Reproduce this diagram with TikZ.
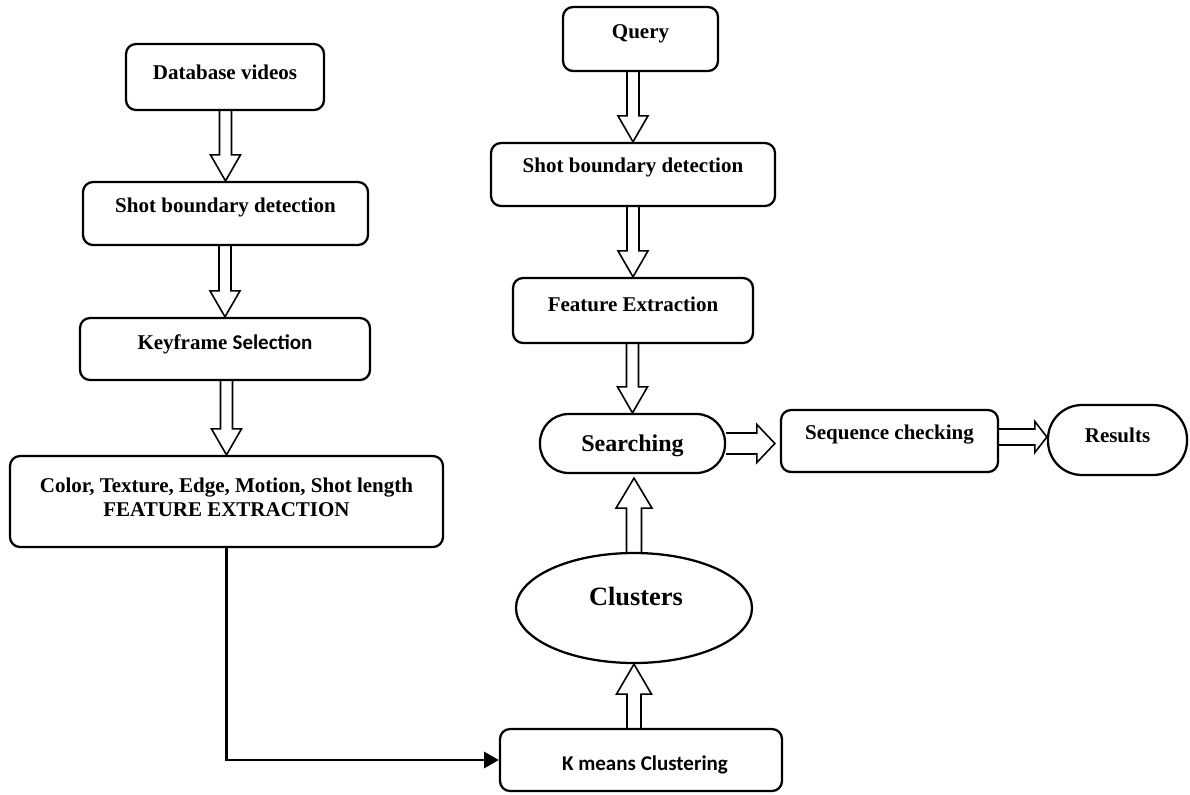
\documentclass[tikz,border=0pt]{standalone}
\usepackage{fontspec}
\setmainfont{Liberation Serif}
\newfontfamily\calfont{Carlito}
\usetikzlibrary{calc,arrows.meta,shapes.geometric}
\tikzset{
  box/.style={draw, line width=1.7pt, rounded corners=7.5pt, inner sep=0pt},
  stad/.style={draw, line width=1.7pt, inner sep=0pt},
  lbl/.style={font=\bfseries\fontsize{15.75}{18}\selectfont, inner sep=0pt, align=center},
  blk/.style={draw, line width=1.2pt, line join=miter},
  conn/.style={line width=2pt, -{Triangle[length=11pt,width=12pt]}}
}
% vertical hollow block arrow: from #1 to #2, shaft half-width #3, head half-width #4, head length #5 (px)
\newcommand\varr[5]{%
  \draw[blk] let \p1=(#1), \p2=(#2), \n1={ifthenelse(\y2>\y1,1,-1)} in
    ({\x2-#3*0.75pt},\y1) -- ({\x2-#3*0.75pt},{\y2-\n1*#5*0.75pt})
    -- ({\x2-#4*0.75pt},{\y2-\n1*#5*0.75pt}) -- (\x2,\y2)
    -- ({\x2+#4*0.75pt},{\y2-\n1*#5*0.75pt}) -- ({\x2+#3*0.75pt},{\y2-\n1*#5*0.75pt})
    -- ({\x2+#3*0.75pt},\y1);}
% horizontal hollow block arrow
\newcommand\harr[5]{%
  \draw[blk] let \p1=(#1), \p2=(#2), \n1={ifthenelse(\x2>\x1,1,-1)} in
    (\x1,{\y2-#3*0.75pt}) -- ({\x2-\n1*#5*0.75pt},{\y2-#3*0.75pt})
    -- ({\x2-\n1*#5*0.75pt},{\y2-#4*0.75pt}) -- (\x2,\y2)
    -- ({\x2-\n1*#5*0.75pt},{\y2+#4*0.75pt}) -- ({\x2-\n1*#5*0.75pt},{\y2+#3*0.75pt})
    -- (\x1,{\y2+#3*0.75pt});}
\begin{document}
\begin{tikzpicture}[x=0.75pt,y=-0.75pt]
\useasboundingbox (0,0) rectangle (1190,794);
% left column
\node[box, minimum width=198*0.75pt, minimum height=66*0.75pt] (db) at (225,77) {};
\node[box, minimum width=285*0.75pt, minimum height=63*0.75pt] (sbdl) at (225.5,213.5) {};
\node[box, minimum width=290*0.75pt, minimum height=62*0.75pt] (kf) at (225,349) {};
\node[box, minimum width=433*0.75pt, minimum height=91*0.75pt] (col) at (226.5,501.5) {};
% right column
\node[box, minimum width=155*0.75pt, minimum height=64*0.75pt] (query) at (640.5,39) {};
\node[box, minimum width=284*0.75pt, minimum height=63*0.75pt] (sbdr) at (633,174.5) {};
\node[box, minimum width=240*0.75pt, minimum height=65*0.75pt] (fe) at (633,310.5) {};
\node[stad, rounded corners=21.5pt, minimum width=185*0.75pt, minimum height=59*0.75pt] (srch) at (632.5,443.5) {};
\node[box, minimum width=217*0.75pt, minimum height=62*0.75pt] (seq) at (889.5,441) {};
\node[stad, rounded corners=25.5pt, minimum width=139*0.75pt, minimum height=70*0.75pt] (res) at (1117.5,440) {};
\node[stad, ellipse, minimum width=236*0.75pt, minimum height=110*0.75pt] (clus) at (634,608) {};
\node[box, minimum width=282*0.75pt, minimum height=62*0.75pt] (km) at (641,760) {};
% labels
\node[lbl] (tdb) at ($(db.north)+(0,29)$) {Database videos};
\node[lbl] (tsbdl) at ($(sbdl.north)+(0,27)$) {Shot boundary detection};
\node[lbl] (tkf) at ($(kf.north)+(0,27)$) {Keyframe {\calfont Selection}};
\node[lbl] (tcol) at ($(col.north)+(0,42)$) {Color, Texture, Edge, Motion, Shot length\\FEATURE EXTRACTION};
\node[lbl] (tquery) at ($(query.north)+(0,28)$) {Query};
\node[lbl] (tsbdr) at ($(sbdr.north)+(0,26)$) {Shot boundary detection};
\node[lbl] (tfe) at ($(fe.north)+(0,27)$) {Feature Extraction};
\node[lbl, font=\bfseries\fontsize{18}{20}\selectfont] (tsrch) at (632.5,446) {Searching};
\node[lbl] (tseq) at ($(seq.north)+(0,26)$) {Sequence checking};
\node[lbl] (tres) at ($(res.north)+(0,31)$) {Results};
\node[lbl, font=\bfseries\fontsize{19.8}{22}\selectfont] (tclus) at (636,596) {Clusters};
\node[lbl, font=\calfont\bfseries\fontsize{15.75}{18}\selectfont] (tkm) at ($(km.north)+(4,37)$) {K means Clustering};
% block arrows
\varr{db.south}{sbdl.north}{6}{15}{26}
\varr{sbdl.south}{kf.north}{6}{15}{26}
\varr{kf.south}{col.north}{6}{15}{26}
\varr{query.south}{sbdr.north}{6}{15}{26}
\varr{sbdr.south}{fe.north}{6}{15}{26}
\varr{fe.south}{srch.north}{6}{15}{26}
\coordinate (srchb) at ($(srch.south)+(1.5,4)$);
\varr{clus.north}{srchb}{7.5}{18}{30}
\varr{km.north}{clus.south}{7}{17.5}{30}
\coordinate (seqin) at (seq.west |- srch.east);
\coordinate (seqin2) at ($(seqin)+(-5,0)$);
\harr{srch.east}{seqin2}{10.5}{19}{18}
\coordinate (resin) at ($(res.west)+(0,-3)$);
\harr{seq.east}{resin}{8}{15.5}{12}
% elbow connector
\draw[conn] (col.south) |- (km.west);
\end{tikzpicture}
\end{document}
